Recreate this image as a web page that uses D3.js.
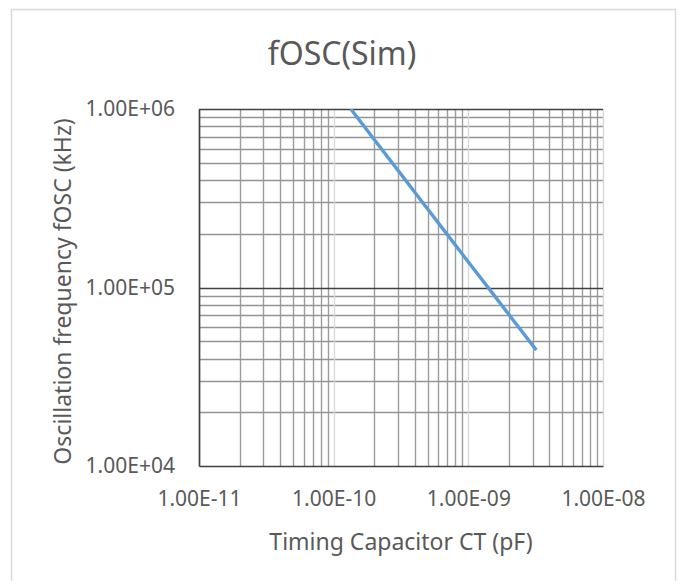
<!DOCTYPE html>
<html>
<head>
<meta charset="utf-8">
<script src="https://cdn.jsdelivr.net/npm/d3@7"></script>
<style>
  body { margin: 0; background: #fff; }
  text { font-family: "Noto Sans", sans-serif; fill: #595959; }
</style>
</head>
<body>
<div id="chart"></div>
<script>
// Data
const capacitance = [1.34e-10, 2.2e-10, 3.3e-10, 4.7e-10, 6.8e-10, 1.0e-9, 1.5e-9, 2.2e-9, 3.2e-9];
const frequency = [1.0e6, 6.14e5, 4.13e5, 2.92e5, 2.03e5, 1.39e5, 9.36e4, 6.43e4, 4.46e4];
const xTicks = [1e-11, 1e-10, 1e-9, 1e-8];
const yTicks = [1e4, 1e5, 1e6];

const title = "fOSC(Sim)";
const xTitle = "Timing Capacitor CT (pF)";
const yTitle = "Oscillation frequency fOSC (kHz)";

const W = 680, H = 581;
// Plot area, in page pixels
const plot = { left: 199, right: 603, top: 109, bottom: 466 };

const svg = d3.select("#chart")
  .append("svg")
    .attr("width", W)
    .attr("height", H);

// Chart area frame
svg.append("rect")
  .attr("x", 11.5)
  .attr("y", 9.5)
  .attr("width", 664)
  .attr("height", 600)
  .attr("fill", "#fff")
  .attr("stroke", "#d9d9d9")
  .attr("stroke-width", 1.5);

const x = d3.scaleLog()
  .domain([1e-11, 1e-8])
  .range([plot.left, plot.right]);

const y = d3.scaleLog()
  .domain([1e4, 1e6])
  .range([plot.bottom, plot.top]);

// minor ticks = 2..9 in each decade
const minorOf = (domain) => {
  const out = [];
  const lo = Math.round(Math.log10(domain[0])), hi = Math.round(Math.log10(domain[1]));
  for (let e = lo; e < hi; e++) {
    for (let m = 2; m <= 9; m++) out.push(m * Math.pow(10, e));
  }
  return out;
};

const grid = svg.append("g").attr("class", "grid");

// vertical minor gridlines
grid.selectAll(".vminor")
  .data(minorOf(x.domain()))
  .enter().append("line")
    .attr("x1", d => Math.round(x(d)) + 0.5)
    .attr("x2", d => Math.round(x(d)) + 0.5)
    .attr("y1", plot.top)
    .attr("y2", plot.bottom)
    .attr("stroke", "#9c9c9c")
    .attr("stroke-width", 1.4);

// horizontal minor gridlines
grid.selectAll(".hminor")
  .data(minorOf(y.domain()))
  .enter().append("line")
    .attr("x1", plot.left)
    .attr("x2", plot.right)
    .attr("y1", d => Math.round(y(d)) + 0.5)
    .attr("y2", d => Math.round(y(d)) + 0.5)
    .attr("stroke", "#939393")
    .attr("stroke-width", 1.4);

// vertical major gridlines (light)
grid.selectAll(".vmajor")
  .data(xTicks.slice(1))
  .enter().append("line")
    .attr("x1", d => Math.round(x(d)) + 0.5)
    .attr("x2", d => Math.round(x(d)) + 0.5)
    .attr("y1", plot.top)
    .attr("y2", plot.bottom)
    .attr("stroke", "#d9d9d9")
    .attr("stroke-width", 1.4);

// horizontal major gridlines (dark)
grid.selectAll(".hmajor")
  .data(yTicks.slice(1))
  .enter().append("line")
    .attr("x1", plot.left)
    .attr("x2", plot.right)
    .attr("y1", d => Math.round(y(d)) + 0.5)
    .attr("y2", d => Math.round(y(d)) + 0.5)
    .attr("stroke", "#404040")
    .attr("stroke-width", 1.7);

// Axes
const fmt = d => {
  const e = Math.round(Math.log10(d));
  const s = e < 0 ? "-" : "+";
  return "1.00E" + s + String(Math.abs(e)).padStart(2, "0");
};

const xAxis = svg.append("g")
  .attr("transform", `translate(0,${plot.bottom})`)
  .call(d3.axisBottom(x).tickValues(xTicks).tickFormat(fmt).tickSize(0).tickPadding(25));

const yAxis = svg.append("g")
  .attr("transform", `translate(${plot.left},0)`)
  .call(d3.axisLeft(y).tickValues(yTicks).tickFormat(fmt).tickSize(0).tickPadding(24));

[xAxis, yAxis].forEach(a => {
  a.select(".domain").attr("stroke", "#404040").attr("stroke-width", 1.7);
  a.selectAll("text")
    .style("font-family", "'Noto Sans', sans-serif")
    .style("font-size", "21px")
    .attr("fill", "#595959");
});

// Series line
svg.append("defs").append("clipPath").attr("id", "clip")
  .append("rect")
    .attr("x", plot.left).attr("y", plot.top)
    .attr("width", plot.right - plot.left).attr("height", plot.bottom - plot.top);

const line = d3.line()
  .x((d, i) => x(capacitance[i]))
  .y(d => y(d));

svg.append("path")
  .datum(frequency)
  .attr("clip-path", "url(#clip)")
  .attr("fill", "none")
  .attr("stroke", "#5b9bd5")
  .attr("stroke-width", 3.4)
  .attr("d", line);

// Titles
svg.append("text")
  .attr("x", 342)
  .attr("y", 65)
  .attr("text-anchor", "middle")
  .style("font-size", "32px")
  .text(title);

svg.append("text")
  .attr("x", (plot.left + plot.right) / 2)
  .attr("y", 550)
  .attr("text-anchor", "middle")
  .style("font-size", "23px")
  .text(xTitle);

svg.append("text")
  .attr("transform", `translate(71,${(plot.top + plot.bottom) / 2 + 4}) rotate(-90)`)
  .attr("text-anchor", "middle")
  .style("font-size", "23px")
  .text(yTitle);
</script>
</body>
</html>
